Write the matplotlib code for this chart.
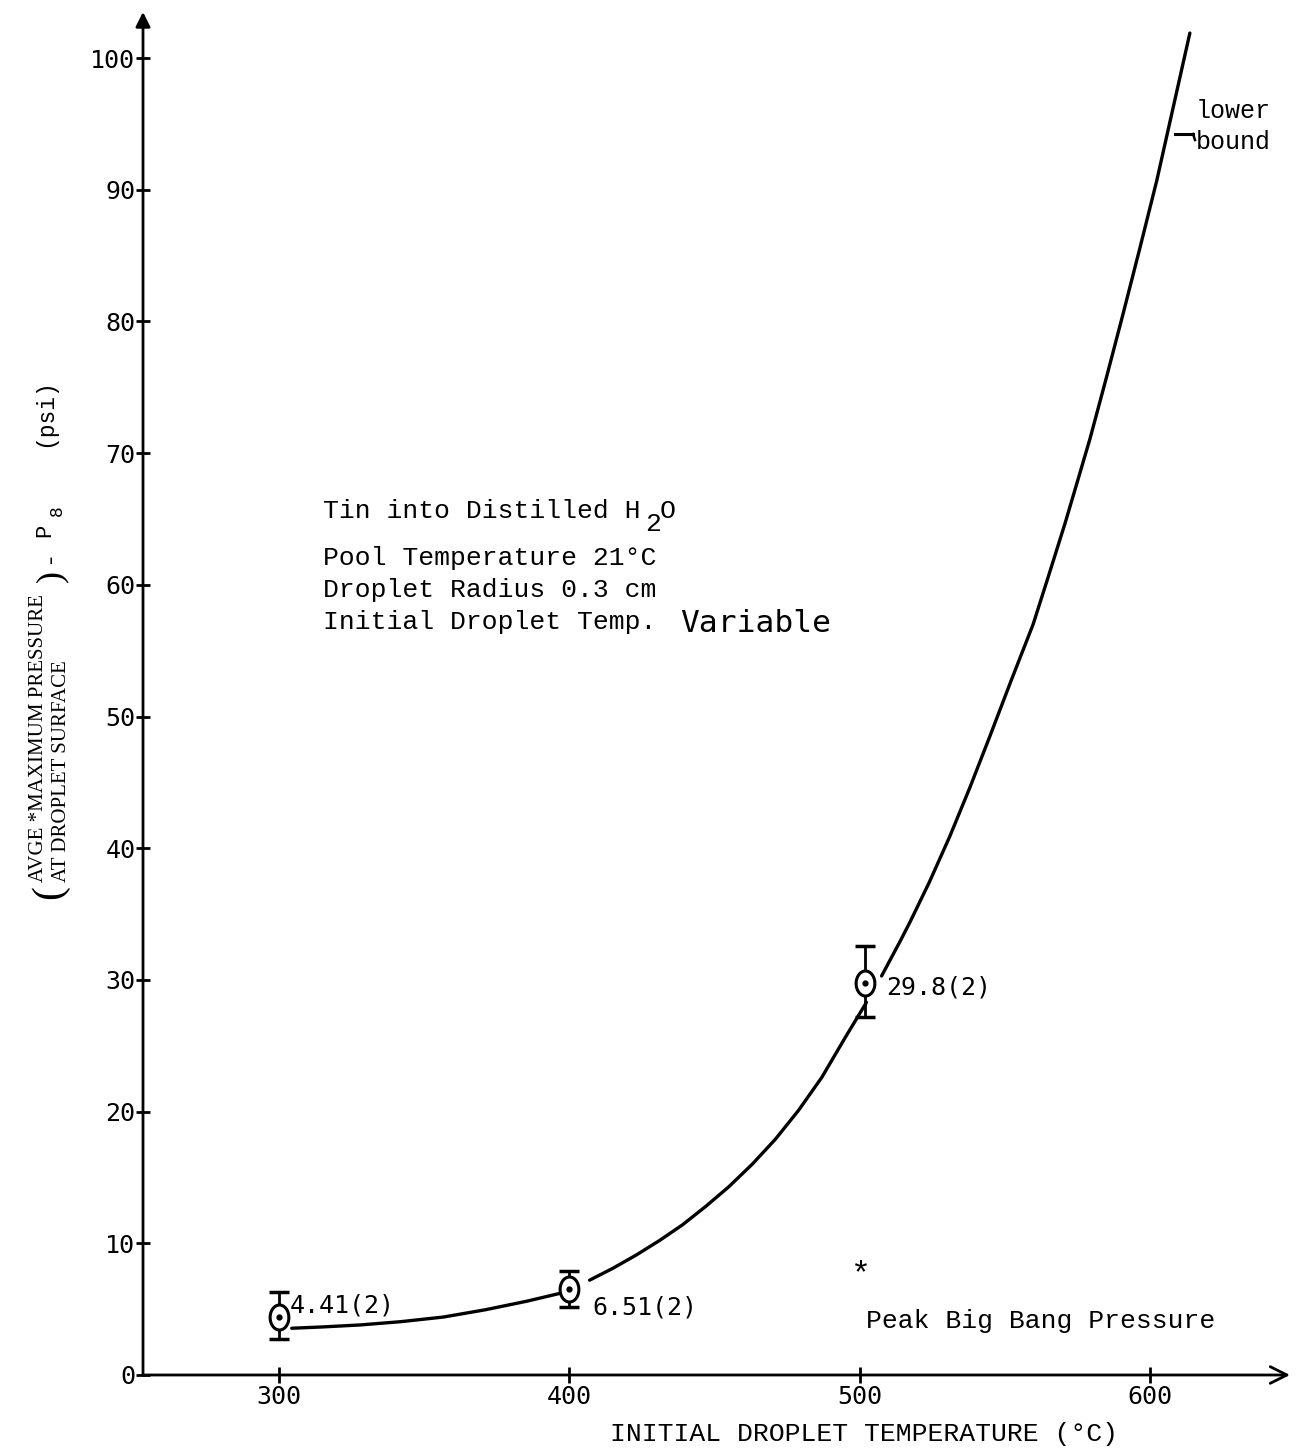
import numpy as np
import matplotlib
matplotlib.use("Agg")
import matplotlib.pyplot as plt
from matplotlib.lines import Line2D

# ---------------- data ----------------
temps = [300, 400, 502]
pressures = [4.41, 6.51, 29.8]
err_low = [2.7, 5.2, 27.2]
err_high = [6.3, 7.9, 32.6]
point_labels = ["4.41(2)", "6.51(2)", "29.8(2)"]

# lower-bound curve (drawn in three pieces around markers)
curve1_x = [304.4, 315.0, 327.9, 342.0, 356.6, 371.0, 385.3, 396.8]
curve1_y = [3.55, 3.65, 3.8, 4.05, 4.4, 4.95, 5.6, 6.2]
curve2_x = [407.0, 415.0, 423.0, 431.0, 439.0, 447.0, 455.0, 463.0, 471.0, 479.0, 487.0, 495.0, 502.4]
curve2_y = [7.2, 8.1, 9.1, 10.2, 11.4, 12.8, 14.3, 16.0, 17.9, 20.1, 22.6, 25.6, 28.3]
curve3_x = [507.6, 513.9, 517.4, 524.0, 531.1, 538.0, 544.9, 552.0, 559.8, 565.0, 570.7,
            575.0, 579.4, 585.0, 590.7, 596.5, 602.4, 608.0, 613.8]
curve3_y = [30.3, 32.9, 34.4, 37.4, 40.9, 44.6, 48.5, 52.6, 57.0, 60.6, 64.6,
            67.8, 71.1, 75.7, 80.5, 85.5, 90.7, 96.2, 101.9]

xticks = [300, 400, 500, 600]
yticks = list(range(0, 101, 10))

W, H = 1298, 1450
fig = plt.figure(figsize=(W / 100, H / 100), dpi=100)
fig.patch.set_facecolor("white")

ax_left, ax_right, ax_top, ax_bottom = 143, 1290, 12, 1375
ax = fig.add_axes([ax_left / W, 1 - ax_bottom / H, (ax_right - ax_left) / W, (ax_bottom - ax_top) / H])
xmin, xmax = 253.15, 648.3
ymin, ymax = 0, 103.5
ax.set_xlim(xmin, xmax)
ax.set_ylim(ymin, ymax)
for s in ax.spines.values():
    s.set_visible(False)
ax.patch.set_alpha(0)

# axes lines with arrows
ax.annotate("", xy=(xmax, 0), xytext=(xmin, 0),
            arrowprops=dict(arrowstyle="->", lw=2.0, color="black", mutation_scale=30,
                            shrinkA=0, shrinkB=0), annotation_clip=False)
ax.annotate("", xy=(xmin, ymax), xytext=(xmin, 0),
            arrowprops=dict(arrowstyle="-|>", lw=2.0, color="black", mutation_scale=22,
                            shrinkA=0, shrinkB=0), annotation_clip=False)

tickfont = "DejaVu Sans Mono"
ax.set_xticks(xticks)
ax.set_xticklabels([str(t) for t in xticks], fontfamily=tickfont, fontsize=18)
ax.set_yticks(yticks)
ax.set_yticklabels([str(t) for t in yticks], fontfamily=tickfont, fontsize=18)
ax.tick_params(axis="x", direction="inout", length=12, width=2, pad=1)
ax.tick_params(axis="y", direction="inout", length=10, width=2, pad=0.5)

# curve
for cx, cy in [(curve1_x, curve1_y), (curve2_x, curve2_y), (curve3_x, curve3_y)]:
    ax.plot(cx, cy, color="black", lw=2.4, solid_capstyle="round", solid_joinstyle="round")

# data points with error bars
t = np.linspace(0, 2 * np.pi, 60)
ell = list(zip(0.75 * np.cos(t), np.sin(t)))
yerr = [[p - lo for p, lo in zip(pressures, err_low)], [hi - p for p, hi in zip(pressures, err_high)]]
ax.errorbar(temps, pressures, yerr=yerr, fmt="none", ecolor="black", elinewidth=2,
            capsize=7, capthick=2.5)
ax.plot(temps, pressures, linestyle="none", marker=ell, markersize=18, markerfacecolor="white",
        markeredgecolor="black", markeredgewidth=2.2)
ax.plot(temps, pressures, linestyle="none", marker="o", markersize=3.5, color="black")


def fp(x, y):
    return x / W, 1 - y / H


mono = "Liberation Mono"
# point labels
label_pos = [(290, 1305), (592, 1307), (886, 987)]
for (lx, ly), txt in zip(label_pos, point_labels):
    fig.text(*fp(lx, ly), txt, fontfamily=tickfont, fontsize=18, ha="left", va="center")

# annotation block
fig.text(*fp(323, 518), "Tin into Distilled H", fontfamily=mono, fontsize=19, ha="left", va="baseline")
fig.text(*fp(645, 531), "2", fontfamily=mono, fontsize=19, ha="left", va="baseline")
fig.text(*fp(660, 518), "O", fontfamily=mono, fontsize=19, ha="left", va="baseline")
fig.text(*fp(323, 565), "Pool Temperature 21°C", fontfamily=mono, fontsize=19, ha="left", va="baseline")
fig.text(*fp(323, 597), "Droplet Radius 0.3 cm", fontfamily=mono, fontsize=19, ha="left", va="baseline")
fig.text(*fp(323, 629), "Initial Droplet Temp.", fontfamily=mono, fontsize=19, ha="left", va="baseline")
fig.text(*fp(680, 632), "Variable", fontfamily=tickfont, fontsize=22.5, ha="left", va="baseline")

# footnote
fig.text(*fp(851, 1283), "*", fontfamily=mono, fontsize=24, ha="left", va="baseline")
fig.text(*fp(866, 1328), "Peak Big Bang Pressure", fontfamily=mono, fontsize=19, ha="left", va="baseline")

# lower bound note
fig.text(*fp(1196, 118), "lower", fontfamily=mono, fontsize=18, ha="left", va="baseline")
fig.text(*fp(1196, 149), "bound", fontfamily=mono, fontsize=18, ha="left", va="baseline")
fig.add_artist(Line2D([1175 / W, 1193 / W], [1 - 134 / H, 1 - 134 / H], transform=fig.transFigure,
                      color="black", lw=2.2))
fig.add_artist(Line2D([1193 / W, 1195 / W], [1 - 134 / H, 1 - 140 / H], transform=fig.transFigure,
                      color="black", lw=1.8))

# x label
fig.text(*fp(610, 1441), "INITIAL DROPLET TEMPERATURE (°C)", fontfamily=mono, fontsize=19,
         ha="left", va="baseline")

# y label pieces (rotated)
serif = "Liberation Serif"
fig.text(*fp(39, 882), "AVGE *MAXIMUM PRESSURE", fontfamily=serif, fontsize=15, rotation=90,
         ha="center", va="bottom")
fig.text(*fp(61, 882), "AT DROPLET SURFACE", fontfamily=serif, fontsize=15, rotation=90,
         ha="center", va="bottom")
fig.text(*fp(50, 892), "(", fontfamily=serif, fontsize=30, rotation=90, ha="center", va="center")
fig.text(*fp(52, 576), ")", fontfamily=serif, fontsize=26, rotation=90, ha="center", va="center")
fig.text(*fp(48, 557), "-", fontfamily=mono, fontsize=17, rotation=90, ha="center", va="center")
fig.text(*fp(45, 530), "P", fontfamily=mono, fontsize=16, rotation=90, ha="center", va="center")
fig.text(*fp(57, 511), "8", fontfamily=mono, fontsize=13, rotation=90, ha="center", va="center")
fig.text(*fp(45, 413), "(psi)", fontfamily=mono, fontsize=16.5, rotation=90, ha="center", va="center")

fig.savefig("out.png", dpi=100, facecolor="white")
